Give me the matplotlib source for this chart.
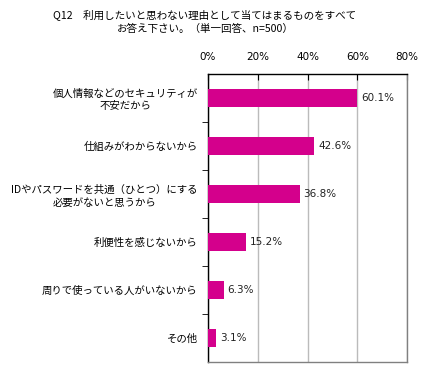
import matplotlib
matplotlib.use("Agg")
import matplotlib.pyplot as plt
import numpy as np

plt.rcParams['font.family'] = ['Noto Sans CJK JP', 'DejaVu Sans']

title = "Q12　利用したいと思わない理由として当てはまるものをすべて\nお答え下さい。（単一回答、n=500）"
categories = [
    "個人情報などのセキュリティが\n不安だから",
    "仕組みがわからないから",
    "IDやパスワードを共通（ひとつ）にする\n必要がないと思うから",
    "利便性を感じないから",
    "周りで使っている人がいないから",
    "その他",
]
values = [60.1, 42.6, 36.8, 15.2, 6.3, 3.1]
xticks = [0, 20, 40, 60, 80]
xticklabels = ["0%", "20%", "40%", "60%", "80%"]

W, H = 423, 370
fig = plt.figure(figsize=(W / 100, H / 100), dpi=100)
ax = fig.add_axes([208 / W, 1 - 362 / H, (407 - 208) / W, (362 - 74) / H])

n = len(categories)
y = np.arange(n)
ax.barh(y, values, height=0.38, color='#D4008C', zorder=3)
ax.set_ylim(n - 0.5, -0.5)
ax.set_xlim(0, 80)

for yi, v in zip(y, values):
    ax.text(v + 1.6, yi, f"{v:.1f}%", va='center', ha='left', fontsize=7.5,
            family=['DejaVu Sans'], color='#222222')

ax.set_xticks(xticks)
ax.set_xticklabels(xticklabels, fontsize=7.5, family=['DejaVu Sans'])
ax.xaxis.tick_top()
ax.tick_params(axis='x', direction='in', length=4, color='black', pad=9)
ax.grid(axis='x', color='#BBBBBB', linewidth=1, zorder=0)

ax.set_yticks(y)
ax.set_yticklabels(categories, fontsize=7.5, linespacing=1.3)
ax.tick_params(axis='y', length=0, pad=7.5)
ax.set_yticks(np.arange(n - 1) + 0.5, minor=True)
ax.tick_params(axis='y', which='minor', direction='out', length=4, color='black')
for lab in ax.get_yticklabels():
    lab.set_horizontalalignment('right')
    lab.set_multialignment('center')

ax.spines['left'].set_color('black')
ax.spines['top'].set_color('black')
ax.spines['bottom'].set_color('#808080')
ax.spines['right'].set_color('#808080')
for s in ax.spines.values():
    s.set_linewidth(1)

fig.text(205 / W, 1 - 22 / H, title, ha='center', va='center', fontsize=7.6,
         linespacing=1.45)

fig.savefig("out.png", dpi=100)
